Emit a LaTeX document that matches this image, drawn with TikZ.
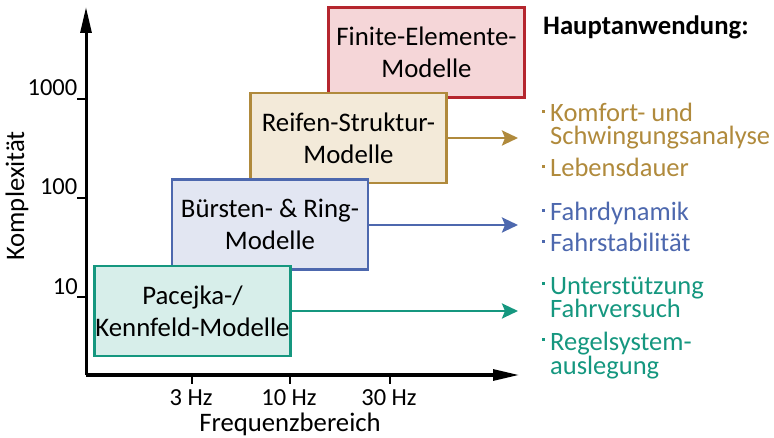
\documentclass[tikz,border=0pt]{standalone}
\usepackage{fontspec}
\setmainfont{Carlito}
\usetikzlibrary{arrows.meta}
\definecolor{feD}{HTML}{B5262E}\definecolor{feF}{HTML}{F5D6D8}
\definecolor{rsD}{HTML}{B08A3C}\definecolor{rsF}{HTML}{F3EAD9}
\definecolor{brD}{HTML}{4D68AE}\definecolor{brF}{HTML}{E2E6F2}
\definecolor{pkD}{HTML}{15977F}\definecolor{pkF}{HTML}{D7EEEA}
\begin{document}
\begin{tikzpicture}[x=1pt,y=-1pt,
  mbox/.style={draw=#1D,fill=#1F,line width=2.4pt,minimum width=196pt,minimum height=90pt,inner sep=0pt,align=center,font=\fontsize{26.8}{32}\selectfont},
  conn/.style={draw=#1D,line width=2.6pt,-{Stealth[length=16pt,width=15pt,inset=3pt]}},
  axis/.style={line width=3pt,-{Triangle[length=26pt,width=11pt]}},
  tk/.style={line width=2.6pt},
  lab/.style={font=\fontsize{24.5}{26}\selectfont,inner sep=0pt},
  big/.style={font=\fontsize{26.7}{28}\selectfont,inner sep=0pt},
  app/.style={font=\fontsize{26.5}{23.5}\selectfont,inner sep=0pt,anchor=base west,align=left,text=#1D},
  dotb/.style={fill=#1D,inner sep=0pt,minimum size=3pt}]
\useasboundingbox (0,0) rectangle (774,438);
% axes
\coordinate (O) at (86,375);
\coordinate (Ytop) at (86,7);
\coordinate (Xend) at (519,375);
\draw[axis] (O) -- (Ytop);
\draw[axis] (O) -- (Xend);
% y ticks
\coordinate (y1) at (86,99); \coordinate (y2) at (86,198); \coordinate (y3) at (86,297);
\draw[tk] (y1) -- ++(-9,0) coordinate (y1e);
\draw[tk] (y2) -- ++(-9,0) coordinate (y2e);
\draw[tk] (y3) -- ++(-9,0) coordinate (y3e);
\node[lab,anchor=base east] (l1000) at (77.5,95.5) {1000};
\node[lab,anchor=base east] (l100) at (77.5,195) {100};
\node[lab,anchor=base east] (l10) at (78,294.5) {10};
% x ticks
\coordinate (x1) at (192,375); \coordinate (x2) at (290,375); \coordinate (x3) at (390,375);
\draw[tk] (x1) -- ++(0,9);
\draw[tk] (x2) -- ++(0,9);
\draw[tk] (x3) -- ++(0,9);
\node[lab,anchor=base] (f3) at (191,405) {3 Hz};
\node[lab,anchor=base] (f10) at (289,405) {10 Hz};
\node[lab,anchor=base] (f30) at (389,405) {30 Hz};
\node[big,anchor=base] (xl) at (290,431.5) {Frequenzbereich};
\node[big,rotate=90] (yl) at (17,196) {Komplexität};
% boxes
\node[mbox=fe] (fe) at (426.5,52.5) {Finite-Elemente-\\Modelle};
\node[mbox=rs] (rs) at (348.5,138) {Reifen-Struktur-\\Modelle};
\node[mbox=br] (br) at (270,224.5) {Bürsten- \& Ring-\\Modelle};
\node[mbox=pk] (pk) at (192.5,311) {Pacejka-/\\Kennfeld-Modelle};
% arrow targets
\coordinate (trs) at (518,138);
\coordinate (tbr) at (518,225);
\coordinate (tpk) at (518,311);
\draw[conn=rs] (rs.east) -- (trs);
\draw[conn=br] (br.east |- tbr) -- (tbr);
\draw[conn=pk] (pk.east) -- (tpk);
% right texts
\node[font=\fontsize{26.7}{28}\selectfont\bfseries,anchor=base west,inner sep=0pt] (ha) at (543,35) {Hauptanwendung:};
\node[app=rs] (a1) at (550,145) {Komfort- und\\Schwingungsanalyse};
\node[app=rs] (a2) at (550,177) {Lebensdauer};
\node[app=br] (a3) at (550,221) {Fahrdynamik};
\node[app=br] (a4) at (550,252) {Fahrstabilität};
\node[app=pk] (a5) at (550,318) {Unterstützung\\Fahrversuch};
\node[app=pk] (a6) at (550,374) {Regelsystem-\\auslegung};
\node[dotb=rs] at (543.5,112) {};
\node[dotb=rs] at (543.5,167) {};
\node[dotb=br] at (543.5,211) {};
\node[dotb=br] at (543.5,242) {};
\node[dotb=pk] at (543.5,284) {};
\node[dotb=pk] at (543.5,340) {};
\end{tikzpicture}
\end{document}
